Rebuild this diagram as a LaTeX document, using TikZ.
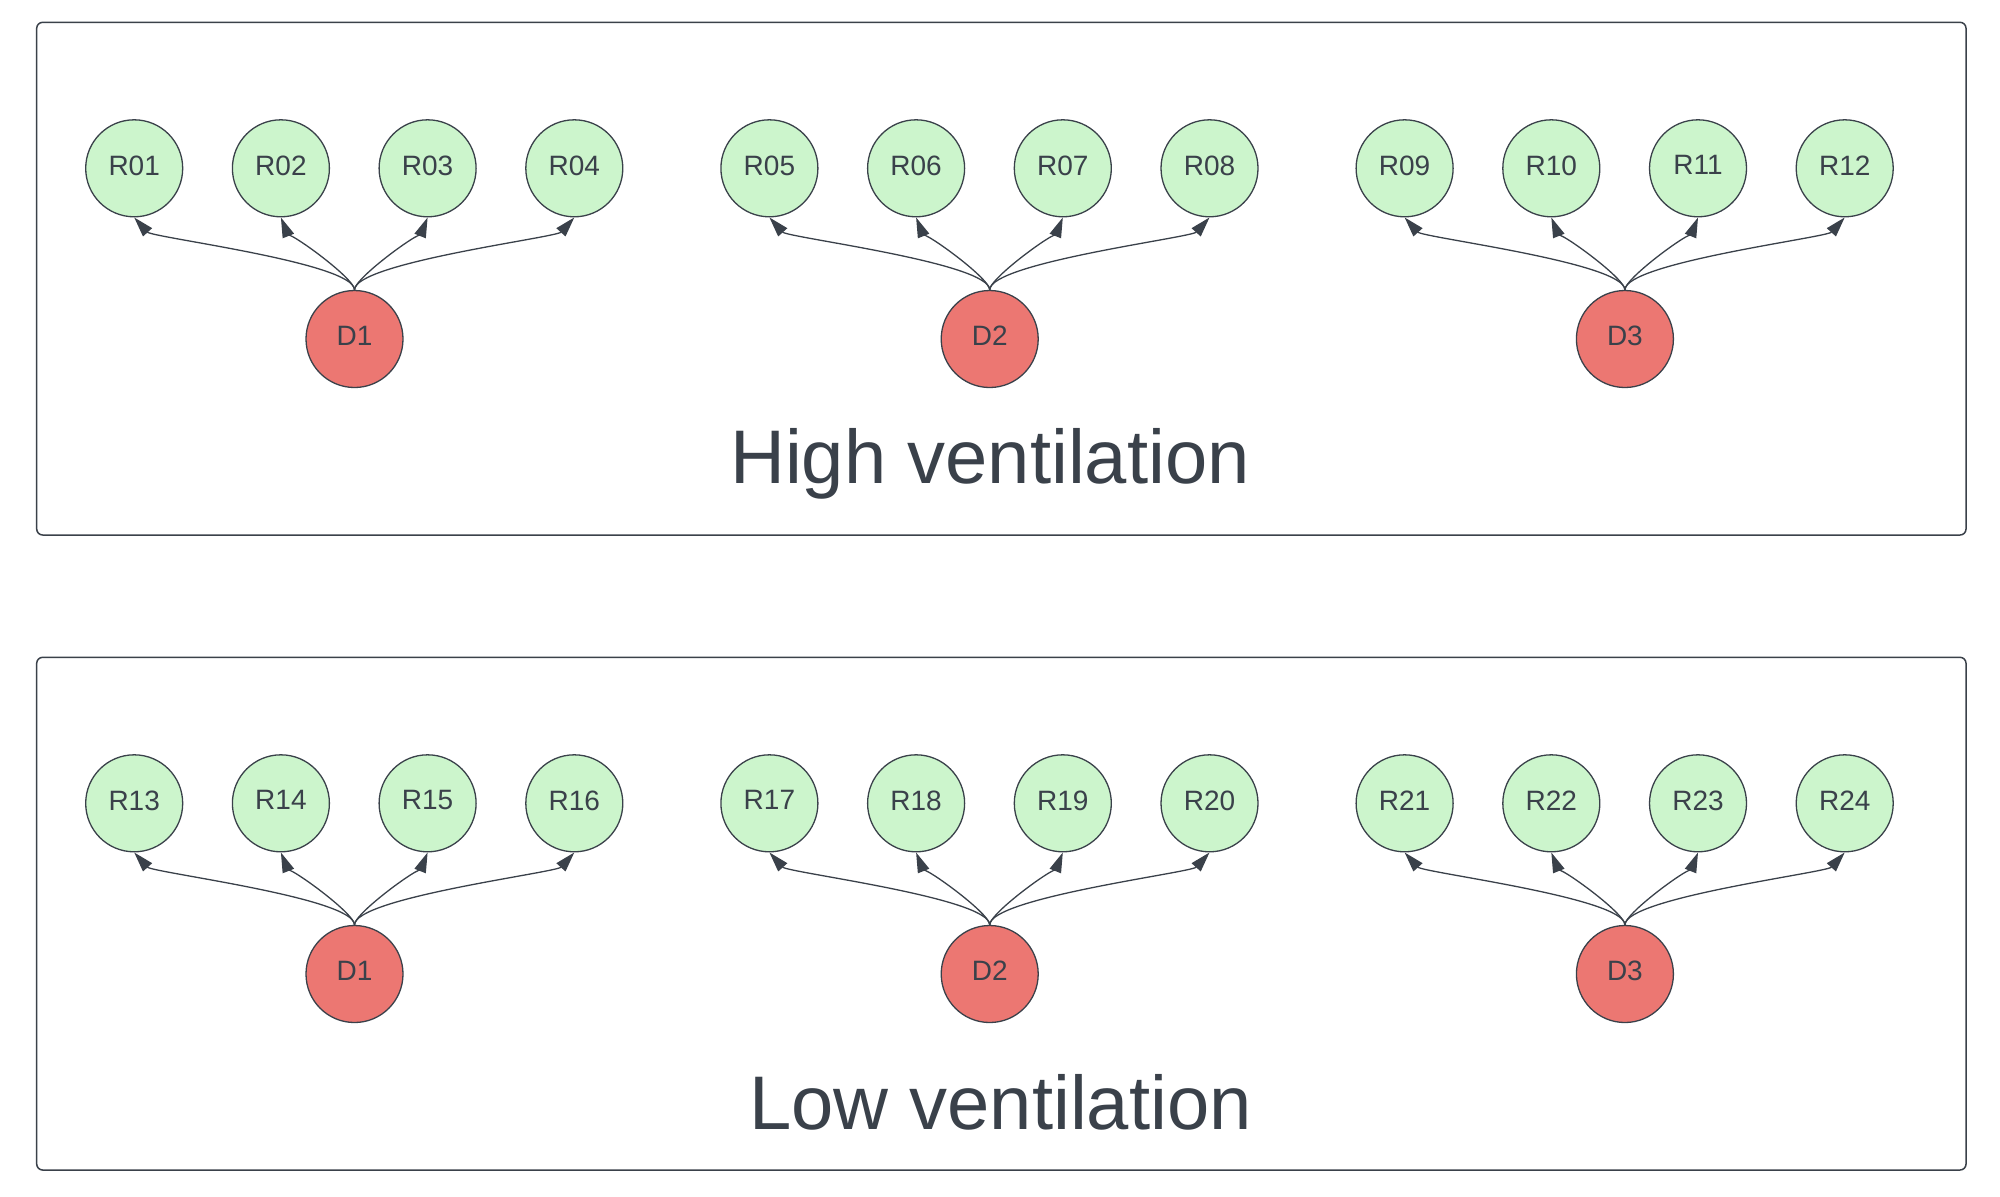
\documentclass[tikz,border=0pt]{standalone}
\usepackage{fontspec}
\setmainfont{Liberation Sans}
\usetikzlibrary{arrows.meta}
\definecolor{inkgray}{HTML}{3A414A}
\definecolor{roomgreen}{HTML}{CCF5CC}
\definecolor{sourcered}{HTML}{EC7772}
\tikzset{
  room/.style={circle,draw=inkgray,line width=0.65pt,fill=roomgreen,minimum size=48.5pt,inner sep=0pt,text=inkgray,font=\fontsize{14}{16}\selectfont,text depth=3pt},
  source/.style={room,fill=sourcered},
  feed/.style={draw=inkgray,line width=0.65pt,-{Triangle[length=10pt,width=6pt]},looseness=0.3},
  panel/.style={draw=inkgray,line width=0.75pt,rounded corners=3pt},
  paneltitle/.style={anchor=base,text=inkgray,font=\fontsize{38}{40}\selectfont}
}
\begin{document}
\begin{tikzpicture}[x=0.5pt,y=0.5pt]
    \useasboundingbox (0,0) rectangle (2000,-1196);
    \foreach \p/\py/\n/\ttl/\tx/\ty in {h/0/0/High ventilation/990/483.3, l/635/12/Low ventilation/1000.5/494.3}{
        \draw[panel] (36.7,-22.3-\py) rectangle (1966,-535-\py);
        \node[paneltitle] (\p Title) at (\tx,-\ty-\py) {\ttl};
        \foreach \g in {1,2,3}{
            \node[source] (\p D\g) at ({354.5+635.2*(\g-1)},{-339-\py}) {D\g};
            \foreach \k/\ang in {1/-48,2/-68,3/-112,4/-132}{
                \pgfmathtruncatemacro\r{\n+4*(\g-1)+\k}
                \edef\rl{\ifnum\r<10 0\fi\r}
                \node[room] (R\rl) at ({134.2+635.2*(\g-1)+146.7*(\k-1)},{-168.3-\py}) {R\rl};
                \draw[feed] (\p D\g.north) to[out=90,in=\ang] (R\rl.south);
            }
        }
    }
\end{tikzpicture}
\end{document}
